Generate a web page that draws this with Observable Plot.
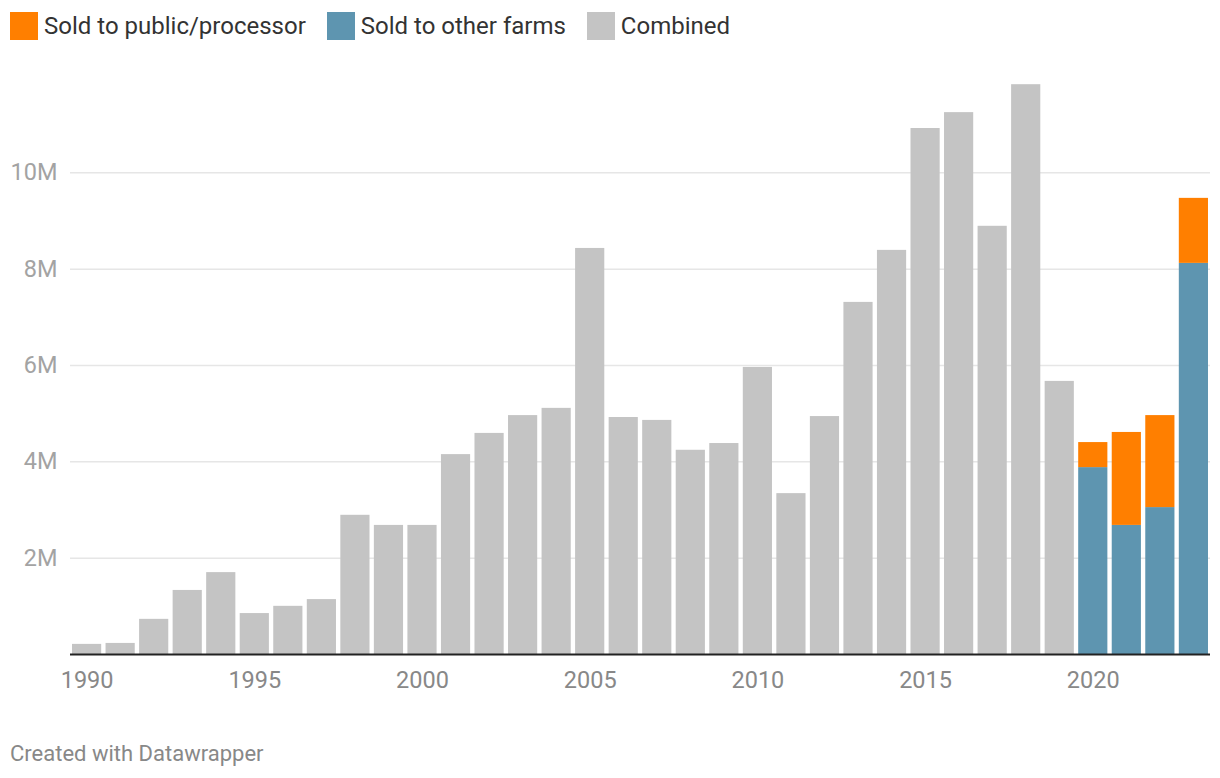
<!DOCTYPE html>
<html>
<head>
<meta charset="utf-8">
<script src="https://cdn.jsdelivr.net/npm/d3@7"></script>
<script src="https://cdn.jsdelivr.net/npm/@observablehq/plot@0.6"></script>
<style>
  html, body { margin: 0; padding: 0; background: #fff; }
  body { width: 1220px; height: 778px; position: relative; font-family: Roboto, "Noto Sans", sans-serif; overflow: hidden; }
  #legend { position: absolute; top: 12px; left: 10px; display: flex; align-items: center; font-size: 24px; color: #333; line-height: 28px; }
  .item { display: flex; align-items: center; margin-right: 21px; }
  .sw { width: 28px; height: 28px; margin-right: 6px; }
  #chart { position: absolute; top: 50px; left: 0; }
  #caption { position: absolute; top: 741px; left: 10px; font-size: 22px; color: #888; }
</style>
</head>
<body>
<div id="legend"></div>
<div id="chart"></div>
<div id="caption">Created with Datawrapper</div>
<script>
const combinedYears = [1990,1991,1992,1993,1994,1995,1996,1997,1998,1999,2000,2001,2002,2003,2004,2005,2006,2007,2008,2009,2010,2011,2012,2013,2014,2015,2016,2017,2018,2019];
const combinedValues = [0.21,0.23,0.73,1.33,1.70,0.85,1.00,1.14,2.89,2.68,2.68,4.15,4.59,4.96,5.11,8.43,4.92,4.86,4.24,4.38,5.96,3.34,4.94,7.31,8.39,10.92,11.25,8.89,11.83,5.67];
const splitYears = [2020,2021,2022,2023];
const otherFarmsValues = [3.88,2.68,3.05,8.12];
const publicValues = [0.52,1.93,1.91,1.35];
const seriesNames = ["Sold to public/processor","Sold to other farms","Combined"];
const seriesColors = ["#ff7f00","#5e95b0","#c4c4c4"];
const xTicks = [1990,1995,2000,2005,2010,2015,2020];
const yTicks = [2e6,4e6,6e6,8e6,10e6];

const data = [];
combinedYears.forEach((y,i) => data.push({year: y, series: "Combined", value: combinedValues[i]*1e6}));
splitYears.forEach((y,i) => {
  data.push({year: y, series: "Sold to other farms", value: otherFarmsValues[i]*1e6});
  data.push({year: y, series: "Sold to public/processor", value: publicValues[i]*1e6});
});

const legend = document.getElementById("legend");
seriesNames.forEach((n,i) => {
  const it = document.createElement("div"); it.className = "item";
  const sw = document.createElement("div"); sw.className = "sw"; sw.style.background = seriesColors[i];
  const tx = document.createElement("span"); tx.textContent = n;
  it.appendChild(sw); it.appendChild(tx); legend.appendChild(it);
});

const years = combinedYears.concat(splitYears);

const chart = Plot.plot({
  width: 1220,
  height: 660,
  marginLeft: 70,
  marginRight: 10,
  marginTop: 26,
  marginBottom: 56,
  style: {fontFamily: "Roboto, sans-serif", fontSize: "23px", background: "#fff"},
  x: {type: "band", domain: years, paddingInner: 0.13, paddingOuter: 0.06, round: false},
  y: {domain: [0, 12e6]},
  color: {domain: seriesNames, range: seriesColors},
  marks: [
    Plot.ruleY(yTicks, {stroke: "#e6e6e6", strokeWidth: 1.5}),
    Plot.barY(data, {x: "year", y: "value", fill: "series", order: ["Combined","Sold to other farms","Sold to public/processor"]}),
    Plot.ruleY([0], {stroke: "#222", strokeWidth: 2}),
    Plot.axisX({ticks: xTicks, tickSize: 0, tickPadding: 17, tickFormat: d => `${d}`, fontSize: 23.5, color: "#888", label: null}),
    Plot.axisY({ticks: yTicks, tickSize: 0, tickPadding: 13, tickFormat: d => `${d/1e6}M`, fontSize: 23.5, color: "#a3a3a3", label: null})
  ]
});
document.getElementById("chart").appendChild(chart);
</script>
</body>
</html>
